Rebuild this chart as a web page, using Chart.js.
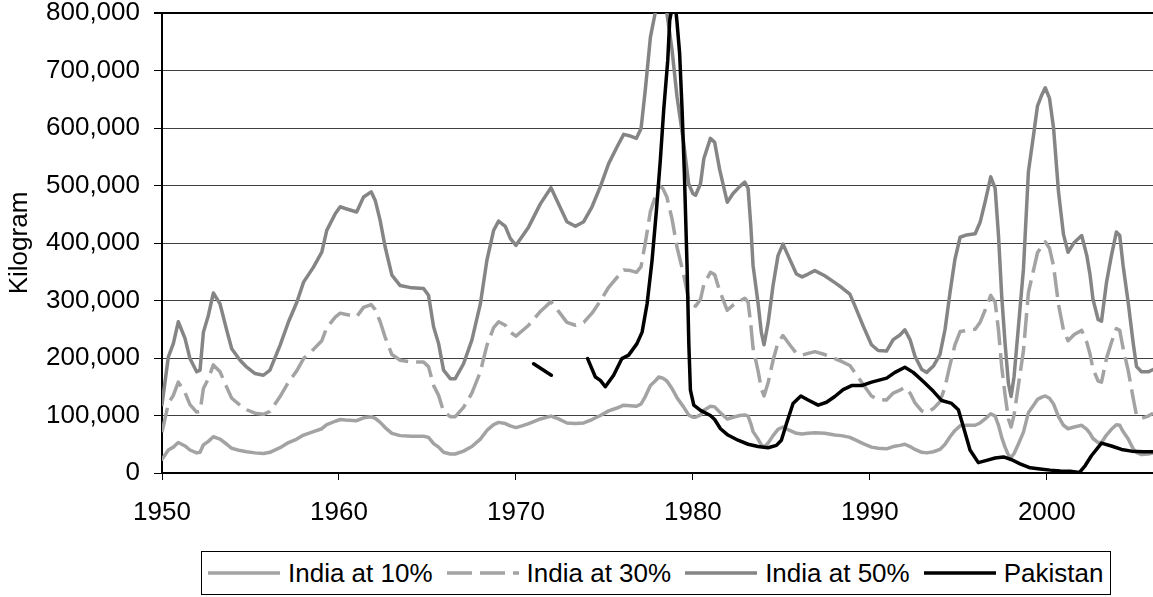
<!DOCTYPE html>
<html lang="en">
<head>
<meta charset="UTF-8">
<title>India / Pakistan</title>
<script src="https://cdn.jsdelivr.net/npm/chart.js@4"></script>
<style>
    body { margin: 0; background: #fff; }
    #contenedor { position: relative; width: 1153px; height: 597px; }
    #leyenda {
        position: absolute; left: 201px; top: 551px; width: 910px; height: 44px;
        box-sizing: border-box; border: 1px solid #000; background: #fff;
        display: flex; align-items: center; padding-left: 6px;
        font: 26px "Liberation Sans", Arial, sans-serif; color: #000; white-space: nowrap;
    }
    #leyenda .item { display: flex; align-items: center; margin-right: 14px; }
    #leyenda svg { margin-right: 8px; }
</style>
</head>
<body>
<div id="contenedor">
    <canvas id="grafico" width="1153" height="597"></canvas>
    <div id="leyenda"></div>
</div>
<script>
// Años de las series de India
const anios = [
    1950.0, 1950.36, 1950.64, 1950.92, 1951.3, 1951.58, 1951.96, 1952.15, 1952.34, 1952.62,
    1952.9, 1953.28, 1953.66, 1953.94, 1954.41, 1954.79, 1955.26, 1955.73, 1956.1, 1956.67,
    1957.15, 1957.62, 1958.0, 1958.56, 1959.03, 1959.31, 1959.79, 1960.07, 1960.35, 1961.0,
    1961.39, 1961.82, 1962.05, 1962.33, 1962.61, 1962.99, 1963.46, 1964.12, 1964.78, 1965.06,
    1965.35, 1965.63, 1965.91, 1966.29, 1966.57, 1967.04, 1967.51, 1967.99, 1968.36, 1968.74,
    1969.02, 1969.4, 1969.68, 1970.0, 1970.34, 1970.72, 1971.38, 1971.98, 1972.41, 1972.88,
    1973.36, 1973.83, 1974.3, 1974.77, 1975.24, 1975.71, 1976.09, 1976.47, 1976.81, 1977.07,
    1977.31, 1977.6, 1977.87, 1978.07, 1978.3, 1978.53, 1978.82, 1979.1, 1979.47, 1979.76,
    1980.0, 1980.15, 1980.43, 1980.62, 1980.99, 1981.23, 1981.51, 1981.94, 1982.27, 1982.64,
    1982.93, 1983.12, 1983.27, 1983.4, 1983.68, 1983.87, 1984.02, 1984.25, 1984.53, 1984.81,
    1985.09, 1985.47, 1985.85, 1986.17, 1986.51, 1986.89, 1987.45, 1988.02, 1988.39, 1988.87,
    1989.15, 1989.62, 1990.09, 1990.47, 1990.94, 1991.32, 1991.7, 1991.98, 1992.27, 1992.55,
    1992.93, 1993.21, 1993.59, 1993.96, 1994.25, 1994.53, 1994.81, 1995.1, 1995.47, 1995.95,
    1996.23, 1996.51, 1996.83, 1997.08, 1997.27, 1997.45, 1997.64, 1997.83, 1997.98, 1998.15,
    1998.4, 1998.68, 1998.96, 1999.25, 1999.47, 1999.72, 1999.91, 2000.15, 2000.38, 2000.66,
    2000.94, 2001.2, 2001.55, 2001.97, 2002.26, 2002.44, 2002.61, 2002.9, 2003.09, 2003.37,
    2003.65, 2003.93, 2004.12, 2004.31, 2004.6, 2004.88, 2005.07, 2005.35, 2005.73, 2006.01
];

const india10 = [
    24000, 40000, 45000, 53000, 47000, 40000, 35000, 36000, 49000, 55000,
    63000, 59000, 50000, 43000, 39000, 37000, 35000, 34000, 36000, 44000,
    53000, 59000, 66000, 72000, 77000, 84000, 90000, 93000, 92000, 91000,
    96000, 98000, 95000, 88000, 79000, 69000, 65000, 64000, 64000, 62000,
    51000, 45000, 36000, 33000, 33000, 38000, 46000, 59000, 74000, 84000,
    88000, 86000, 82000, 79000, 82000, 86000, 94000, 99000, 94000, 87000,
    86000, 87000, 93000, 100000, 108000, 113000, 118000, 117000, 116000, 120000,
    133000, 152000, 160000, 167000, 165000, 160000, 147000, 131000, 115000, 101000,
    97000, 97000, 101000, 109000, 116000, 115000, 106000, 94000, 97000, 100000,
    101000, 99000, 86000, 72000, 59000, 49000, 45000, 52000, 65000, 76000,
    80000, 74000, 69000, 68000, 69000, 70000, 69000, 66000, 65000, 62000,
    58000, 51000, 45000, 43000, 42000, 46000, 48000, 50000, 46000, 41000,
    36000, 35000, 37000, 41000, 50000, 63000, 74000, 82000, 83000, 83000,
    87000, 94000, 103000, 99000, 83000, 62000, 45000, 31000, 27000, 34000,
    51000, 71000, 105000, 118000, 128000, 132000, 134000, 130000, 120000, 98000,
    83000, 77000, 80000, 83000, 76000, 69000, 60000, 53000, 53000, 66000,
    76000, 84000, 83000, 72000, 59000, 42000, 36000, 32000, 33000, 35000
];

const india30 = [
    71000, 121000, 135000, 158000, 140000, 119000, 106000, 107000, 147000, 164000,
    188000, 176000, 149000, 130000, 118000, 110000, 104000, 102000, 107000, 133000,
    158000, 178000, 199000, 215000, 230000, 253000, 271000, 278000, 276000, 272000,
    288000, 293000, 284000, 263000, 236000, 206000, 196000, 193000, 193000, 185000,
    152000, 135000, 107000, 98000, 98000, 114000, 139000, 176000, 222000, 253000,
    263000, 257000, 245000, 238000, 247000, 257000, 281000, 298000, 281000, 262000,
    257000, 262000, 278000, 299000, 323000, 340000, 353000, 352000, 349000, 359000,
    400000, 455000, 480000, 500000, 495000, 480000, 442000, 393000, 346000, 302000,
    292000, 290000, 302000, 328000, 349000, 345000, 317000, 283000, 292000, 299000,
    304000, 297000, 259000, 217000, 178000, 146000, 134000, 157000, 196000, 227000,
    239000, 223000, 208000, 205000, 208000, 211000, 206000, 199000, 194000, 187000,
    175000, 154000, 134000, 128000, 127000, 139000, 144000, 149000, 139000, 122000,
    108000, 105000, 112000, 124000, 150000, 188000, 223000, 246000, 248000, 250000,
    262000, 283000, 309000, 297000, 248000, 185000, 136000, 94000, 80000, 101000,
    154000, 213000, 314000, 353000, 383000, 395000, 402000, 391000, 360000, 293000,
    249000, 230000, 241000, 248000, 227000, 207000, 181000, 160000, 158000, 199000,
    227000, 251000, 248000, 217000, 178000, 130000, 100000, 95000, 99000, 104000
];

const india50 = [
    119000, 202000, 225000, 263000, 234000, 199000, 176000, 179000, 245000, 274000,
    313000, 294000, 248000, 216000, 196000, 184000, 173000, 170000, 179000, 222000,
    263000, 297000, 332000, 358000, 384000, 422000, 451000, 463000, 460000, 454000,
    480000, 489000, 474000, 439000, 393000, 344000, 326000, 322000, 321000, 309000,
    254000, 225000, 179000, 164000, 164000, 190000, 231000, 294000, 370000, 422000,
    438000, 429000, 408000, 396000, 411000, 428000, 468000, 496000, 468000, 437000,
    429000, 437000, 463000, 498000, 538000, 567000, 589000, 586000, 582000, 599000,
    666000, 758000, 800000, 833000, 825000, 800000, 736000, 655000, 576000, 503000,
    486000, 483000, 503000, 547000, 582000, 575000, 528000, 471000, 486000, 498000,
    506000, 495000, 431000, 361000, 296000, 244000, 223000, 261000, 326000, 378000,
    398000, 372000, 346000, 341000, 346000, 352000, 343000, 331000, 323000, 311000,
    291000, 256000, 223000, 213000, 212000, 232000, 240000, 249000, 232000, 203000,
    180000, 175000, 186000, 206000, 250000, 314000, 372000, 410000, 414000, 416000,
    436000, 471000, 515000, 495000, 413000, 308000, 226000, 156000, 133000, 168000,
    256000, 355000, 524000, 588000, 638000, 658000, 670000, 652000, 600000, 489000,
    415000, 384000, 401000, 413000, 378000, 345000, 302000, 267000, 264000, 331000,
    378000, 419000, 413000, 361000, 296000, 226000, 185000, 176000, 176000, 180000
];

// Pakistán: sin datos en 1973 (hueco en la línea)
const aniosPakistan = [
    1971, 1972, 1973, 1974.05, 1974.49, 1974.77, 1975.05, 1975.52, 1975.99, 1976.37,
    1976.84, 1977.13, 1977.41, 1977.69, 1977.94, 1978.16, 1978.35, 1978.58, 1978.69, 1978.95,
    1979.1, 1979.25, 1979.39, 1979.52, 1979.67, 1979.77, 1979.86, 1980.05, 1980.43, 1980.99,
    1981.23, 1981.56, 1981.98, 1982.55, 1983.12, 1983.68, 1984.25, 1984.72, 1985.0, 1985.29,
    1985.66, 1986.1, 1986.51, 1987.08, 1987.55, 1988.02, 1988.49, 1988.97, 1989.53, 1990.1,
    1990.95, 1991.42, 1991.98, 1992.45, 1993.02, 1993.59, 1994.06, 1994.62, 1995.0, 1995.28,
    1995.66, 1996.13, 1996.6, 1997.08, 1997.55, 1998.02, 1998.49, 1999.06, 1999.62, 2000.19,
    2000.76, 2001.32, 2001.85, 2002.17, 2002.52, 2003.09, 2003.65, 2004.22, 2004.78, 2005.44,
    2006.01
];

const pakistan = [
    190000, 170000, null, 199000, 167000, 161000, 150000, 170000, 199000, 205000,
    225000, 245000, 294000, 369000, 457000, 544000, 631000, 718000, 787000, 830000,
    785000, 730000, 631000, 520000, 360000, 225000, 144000, 118000, 109000, 100000,
    93000, 77000, 66000, 57000, 50000, 46000, 44000, 48000, 57000, 86000,
    121000, 134000, 127000, 118000, 123000, 133000, 145000, 152000, 152000, 158000,
    165000, 175000, 184000, 175000, 159000, 142000, 126000, 121000, 110000, 81000,
    40000, 18000, 22000, 26000, 28000, 23000, 16000, 9000, 7000, 5000,
    3500, 3000, 1000, 13000, 30000, 52000, 47000, 41000, 38000, 37000,
    37000
];

// Etiquetas del eje X
const aniosEje = [1950, 1960, 1970, 1980, 1990, 2000];

function puntos(xs, ys) {
    return xs.map((x, i) => ({ x: x, y: ys[i] }));
}

const series = [
    { label: "India at 10%", data: puntos(anios, india10), color: "#a3a3a3", dash: [], order: 3 },
    { label: "India at 30%", data: puntos(anios, india30), color: "#a3a3a3", dash: [25, 8], order: 2 },
    { label: "India at 50%", data: puntos(anios, india50), color: "#858585", dash: [], order: 1 },
    { label: "Pakistan", data: puntos(aniosPakistan, pakistan), color: "#000000", dash: [], order: 0 }
];

Chart.defaults.font.family = "'Liberation Sans', Arial, sans-serif";
Chart.defaults.font.size = 26;
Chart.defaults.color = "#000";

const ctx = document.getElementById("grafico").getContext("2d");
window.miGrafico = new Chart(ctx, {
    type: "line",
    data: {
        datasets: series.map(s => ({
            label: s.label,
            data: s.data,
            order: s.order,
            borderColor: s.color,
            borderDash: s.dash,
            borderWidth: 3.5,
            borderCapStyle: s.dash.length ? "butt" : "round",
            borderJoinStyle: "round",
            pointRadius: 0,
            tension: 0,
            spanGaps: false,
            fill: false
        }))
    },
    options: {
        responsive: false,
        animation: false,
        layout: { padding: { top: 0, right: 0, bottom: 64, left: 0 } },
        plugins: {
            legend: { display: false },
            tooltip: { enabled: false }
        },
        scales: {
            x: {
                type: "linear",
                min: 1950,
                max: 2006,
                afterBuildTicks: eje => { eje.ticks = aniosEje.map(v => ({ value: v })); },
                afterFit: eje => { eje.height = 60; },
                ticks: { padding: 17, maxRotation: 0, autoSkip: false, callback: v => String(v) },
                grid: { drawOnChartArea: false, tickLength: 7, tickColor: "#000", tickWidth: 1 },
                border: { color: "#000", width: 2 }
            },
            y: {
                min: 0,
                max: 800000,
                // ancho fijo del eje y margen superior como en el original
                afterFit: eje => { eje.width = 162; eje.paddingTop = 13; },
                ticks: {
                    stepSize: 100000,
                    padding: 14,
                    font: { lineHeight: 1 },
                    callback: v => v.toLocaleString("en-US")
                },
                grid: {
                    color: c => (c.tick && c.tick.value === 800000) ? "#000" : "#404040",
                    lineWidth: c => (c.tick && c.tick.value === 800000) ? 2 : 1,
                    tickLength: 8,
                    tickColor: "#000"
                },
                border: { color: "#000", width: 2 },
                title: { display: true, text: "Kilogram", padding: { top: 4, bottom: 0 } }
            }
        }
    }
});

// Leyenda con recuadro, construida a partir de las series
const leyenda = document.getElementById("leyenda");
series.forEach(s => {
    const item = document.createElement("span");
    item.className = "item";
    item.innerHTML =
        `<svg width="72" height="8"><line x1="0" y1="4" x2="72" y2="4" stroke="${s.color}" ` +
        `stroke-width="3.5" stroke-dasharray="${s.dash.join(" ") || "none"}"/></svg>` +
        `<span>${s.label}</span>`;
    leyenda.appendChild(item);
});
</script>
</body>
</html>
